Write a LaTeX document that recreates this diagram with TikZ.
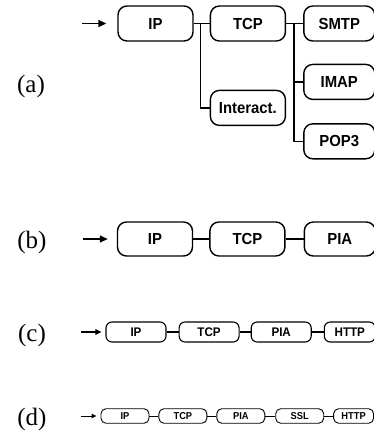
\documentclass[tikz,border=0pt]{standalone}
\usepackage{fontspec}
\setmainfont{Liberation Serif}
\setsansfont[FakeStretch=0.93]{Liberation Sans}
\usetikzlibrary{positioning,arrows.meta}

\begin{document}
\begin{tikzpicture}[x=1pt,y=-1pt,
  proto/.style={draw,rounded corners=9pt,line width=1.4pt,inner sep=0pt,
    font=\sffamily\bfseries\fontsize{16}{16}\selectfont,minimum width=75pt,minimum height=35pt},
  protoc/.style={proto,rounded corners=6pt,line width=1.1pt,minimum width=60pt,minimum height=20pt,
    font=\sffamily\bfseries\fontsize{12.5}{12.5}\selectfont},
  protod/.style={proto,rounded corners=5pt,line width=0.9pt,minimum width=48pt,minimum height=14.5pt,
    font=\sffamily\bfseries\fontsize{10}{10}\selectfont},
  tag/.style={font=\fontsize{25}{25}\selectfont,inner sep=0pt},
  link/.style={line width=1.4pt},
  >={Triangle[length=8pt,width=7pt]}]
\useasboundingbox (0,0) rectangle (373,437);
% (a)
\node[tag] (la) at (31,86) {(a)};
\node[proto] (aip) at (155.5,23.5) {IP};
\node[proto,right=16pt of aip] (atcp) {TCP};
\node[proto,right=17pt of atcp,minimum width=71pt] (asmtp) {SMTP};
\node[proto,below=22pt of asmtp,minimum width=71pt] (aimap) {IMAP};
\node[proto,below=23pt of aimap,minimum width=71pt] (apop) {POP3};
\node[proto,below=48pt of atcp] (aint) {Interact.};
\coordinate[left=35pt of aip] (ain);
\draw[link,->] (ain) -- ([xshift=-11pt]aip.west);
\draw[link] (aip.east) -- ++(7pt,0) coordinate (aj1) -- (atcp.west);
\draw[link] (aj1) |- (aint.west);
\draw[link] (atcp.east) -- ++(8pt,0) coordinate (aj2) -- (asmtp.west);
\draw[link] (aj2) |- (aimap.west);
\draw[link] (aj2) |- (apop.west);
% (b)
\node[tag] (lb) at (32,242) {(b)};
\node[proto,minimum height=34pt] (bip) at (155,239) {IP};
\node[proto,minimum height=34pt,right=16pt of bip] (btcp) {TCP};
\node[proto,minimum height=34pt,right=18pt of btcp,minimum width=71pt] (bpia) {PIA};
\coordinate[left=34pt of bip] (bin);
\draw[link,->] (bin) -- ([xshift=-9pt]bip.west);
\draw[link] (bip) -- (btcp);
\draw[link] (btcp) -- (bpia);
% (c)
\node[tag] (lc) at (32,335) {(c)};
\node[protoc] (cip) at (136,332) {IP};
\node[protoc,right=12pt of cip] (ctcp) {TCP};
\node[protoc,right=11pt of ctcp] (cpia) {PIA};
\node[protoc,right=12pt of cpia,minimum width=51pt] (chttp) {HTTP};
\coordinate[left=24pt of cip] (cin);
\draw[line width=1.1pt,->,>={Triangle[length=6pt,width=5.5pt]}] (cin) -- ([xshift=-4pt]cip.west);
\draw[line width=1.1pt] (cip) -- (ctcp);
\draw[line width=1.1pt] (ctcp) -- (cpia);
\draw[line width=1.1pt] (cpia) -- (chttp);
% (d)
\node[tag] (ld) at (32,419) {(d)};
\node[protod] (dip) at (125,416) {IP};
\node[protod,right=9pt of dip] (dtcp) {TCP};
\node[protod,right=9pt of dtcp] (dpia) {PIA};
\node[protod,right=10pt of dpia] (dssl) {SSL};
\node[protod,right=9pt of dssl,minimum width=40pt] (dhttp) {HTTP};
\coordinate[left=20pt of dip] (din);
\draw[line width=0.9pt,->,>={Triangle[length=5pt,width=4.5pt]}] (din) -- ([xshift=-4pt]dip.west);
\draw[line width=0.9pt] (dip) -- (dtcp);
\draw[line width=0.9pt] (dtcp) -- (dpia);
\draw[line width=0.9pt] (dpia) -- (dssl);
\draw[line width=0.9pt] (dssl) -- (dhttp);
\end{tikzpicture}
\end{document}
